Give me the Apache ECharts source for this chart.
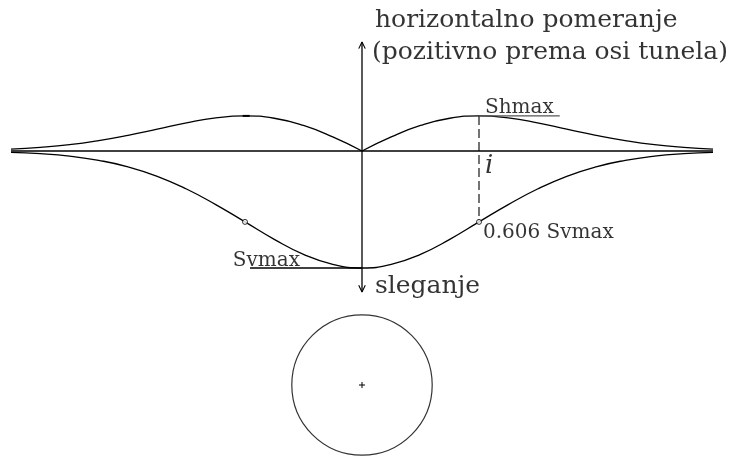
<!DOCTYPE html>
<html>
<head>
<meta charset="utf-8">
<script src="https://cdn.jsdelivr.net/npm/echarts@6/dist/echarts.min.js"></script>
<style>
  html, body { margin: 0; padding: 0; background: #fff; }
  #chart { width: 746px; height: 457px; }
</style>
</head>
<body>
<div id="chart"></div>
<script>
// Distance from the tunnel axis, in multiples of i (inflection-point distance)
const offsets = [-3, -2.75, -2.5, -2.25, -2, -1.75, -1.5, -1.25, -1, -0.75, -0.5, -0.25, 0,
                 0.25, 0.5, 0.75, 1, 1.25, 1.5, 1.75, 2, 2.25, 2.5, 2.75, 3];
// Settlement trough (downwards, relative to Svmax)
const settlement = [-0.011, -0.023, -0.044, -0.080, -0.135, -0.216, -0.325, -0.458, -0.606, -0.755, -0.883, -0.969, -1.0,
                    -0.969, -0.883, -0.755, -0.606, -0.458, -0.325, -0.216, -0.135, -0.080, -0.044, -0.023, -0.011];
// Horizontal displacement (positive towards the tunnel axis)
const horizontal = [0.016, 0.031, 0.054, 0.089, 0.134, 0.187, 0.241, 0.283, 0.300, 0.280, 0.218, 0.120, 0.0,
                    0.120, 0.218, 0.280, 0.300, 0.283, 0.241, 0.187, 0.134, 0.089, 0.054, 0.031, 0.016];
// Inflection points (x = ±i, settlement = 0.606 Svmax)
const inflectionX = [-1, 1];
const inflectionS = [-0.606, -0.606];
// Tunnel: centre depth and radius
const tunnelCentre = [0, -2.0];
const tunnelRadius = 0.6;

// ---- layout ----
const W = 746, H = 457;
const ORIGIN_X = 362, ORIGIN_Y = 151, UNIT = 117;   // pixels per unit i
const FONT = '"DejaVu Serif", "Liberation Serif", serif';

const pts = (xs, ys) => xs.map((x, k) => [x, ys[k]]);
const mid = offsets.indexOf(0);
const settlementPts = pts(offsets, settlement);
const horizLeft = pts(offsets.slice(0, mid + 1), horizontal.slice(0, mid + 1));
const horizRight = pts(offsets.slice(mid), horizontal.slice(mid));
const shmax = Math.max(...horizontal);
const svmax = Math.min(...settlement);

function seg(data, extra) {
  return Object.assign({
    type: 'line', data: data, symbol: 'none', silent: true,
    lineStyle: { color: '#000', width: 1.3 }
  }, extra || {});
}

function note(text, x, y, opts) {
  return {
    value: [x, y],
    label: Object.assign({
      show: true, formatter: text, position: 'right', distance: 0,
      color: '#000', fontFamily: FONT, fontSize: 20
    }, opts || {})
  };
}

const arrowH = 0.057, arrowW = 0.028;
const axisTop = 0.932, axisBottom = -1.205;
const plusR = 0.026;
const r = tunnelRadius * UNIT * 2;

const option = {
  animation: false,
  backgroundColor: '#fff',
  grid: { left: 0, top: 0, width: W, height: H },
  xAxis: {
    type: 'value', min: -ORIGIN_X / UNIT, max: (W - ORIGIN_X) / UNIT,
    show: false
  },
  yAxis: {
    type: 'value', min: -(H - ORIGIN_Y) / UNIT, max: ORIGIN_Y / UNIT,
    show: false
  },
  series: [
    // horizontal axis
    seg([[offsets[0], 0], [offsets[offsets.length - 1], 0]], { lineStyle: { color: '#000', width: 1.4 } }),
    // vertical axis with open arrowheads
    seg([[0, axisBottom], [0, axisTop]]),
    seg([[-arrowW, axisTop - arrowH], [0, axisTop], [arrowW, axisTop - arrowH]], { lineStyle: { color: '#000', width: 1.1 } }),
    seg([[-arrowW, axisBottom + arrowH], [0, axisBottom], [arrowW, axisBottom + arrowH]], { lineStyle: { color: '#000', width: 1.1 } }),
    // settlement trough
    seg(settlementPts, { smooth: 0.5 }),
    // horizontal displacement
    seg(horizLeft, { smooth: 0.5 }),
    seg(horizRight, { smooth: 0.5 }),
    // i marker: dashed line from Shmax down to 0.606 Svmax
    seg([[inflectionX[1], shmax], [inflectionX[1], inflectionS[1]]],
        { lineStyle: { color: '#000', width: 1.1, type: [9, 4] } }),
    // Shmax leader
    seg([[inflectionX[1], shmax], [1.69, shmax]], { lineStyle: { color: '#555', width: 1.3 } }),
    // short tick at the left Shmax
    seg([[-1.02, shmax], [-0.96, shmax]], { lineStyle: { color: '#000', width: 2 } }),
    // Svmax leader
    seg([[-0.957, svmax], [0, svmax]], { lineStyle: { color: '#000', width: 1.3 } }),
    // inflection point markers
    {
      type: 'scatter', silent: true, symbol: 'circle', symbolSize: 5,
      itemStyle: { color: '#fff', borderColor: '#000', borderWidth: 1 },
      data: pts(inflectionX, inflectionS), z: 5
    },
    // tunnel
    {
      type: 'scatter', silent: true, symbol: 'circle', symbolSize: r,
      itemStyle: { color: 'rgba(0,0,0,0)', borderColor: '#000', borderWidth: 1.2 },
      data: [tunnelCentre]
    },
    seg([[tunnelCentre[0] - plusR, tunnelCentre[1]], [tunnelCentre[0] + plusR, tunnelCentre[1]]], { lineStyle: { color: '#000', width: 1 } }),
    seg([[tunnelCentre[0], tunnelCentre[1] - plusR], [tunnelCentre[0], tunnelCentre[1] + plusR]], { lineStyle: { color: '#000', width: 1 } }),
    // annotations
    {
      type: 'scatter', silent: true, symbolSize: 0, z: 10,
      data: [
        note('horizontalno pomeranje', 0.111, 1.118, { fontSize: 25 }),
        note('(pozitivno prema osi tunela)', 0.085, 0.845, { fontSize: 25 }),
        note('sleganje', 0.111, -1.155, { fontSize: 25 }),
        note('Shmax', 1.051, 0.372),
        note('i', 1.051, -0.130, { fontSize: 26, fontStyle: 'italic' }),
        note('0.606 Svmax', 1.034, -0.700),
        note('Svmax', -0.53, -0.940, { position: 'left' })
      ]
    }
  ]
};

const chart = echarts.init(document.getElementById('chart'), null, { renderer: 'canvas' });
chart.setOption(option);
</script>
</body>
</html>
